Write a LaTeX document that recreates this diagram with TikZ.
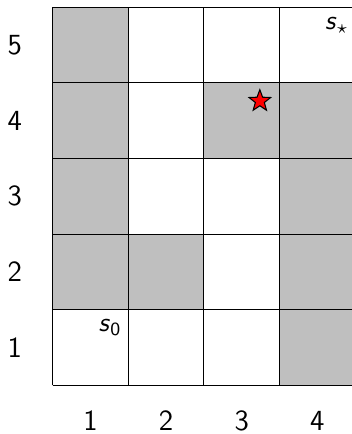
\documentclass[tikz,border=0pt]{standalone}
\usepackage{amsmath,amssymb}
\usetikzlibrary{shapes.geometric}

\begin{document}
\begin{tikzpicture}[every node/.style={font=\sffamily\fontsize{11}{13}\selectfont}, wall/.style={fill=gray!50}, state/.style={font=\sffamily}]
\useasboundingbox (-0.696,-0.643) rectangle (3.954,5.096);
\foreach \c/\r in {1/5,1/4,3/4,4/4,1/3,4/3,1/2,2/2,4/2,4/1}
  \fill[wall] (\c-1,\r-1) rectangle (\c,\r);
\draw (0,0) grid (4,5);
\foreach \i in {1,...,5} \node (row\i) at (-0.5,\i-0.5) {\i};
\foreach \i in {1,...,4} \node (col\i) at (\i-0.5,-0.47) {\i};
\node[state] (start) at (0.76,0.77) {\textit{s}\textsubscript{0}};
\node[state] (goal) at (3.76,4.76) {\textit{s}$_\star$};
\node[star, star points=5, star point ratio=2.4, draw, fill=red, minimum size=0.3cm, inner sep=0pt] (prize) at (2.74,3.76) {};
\end{tikzpicture}
\end{document}
